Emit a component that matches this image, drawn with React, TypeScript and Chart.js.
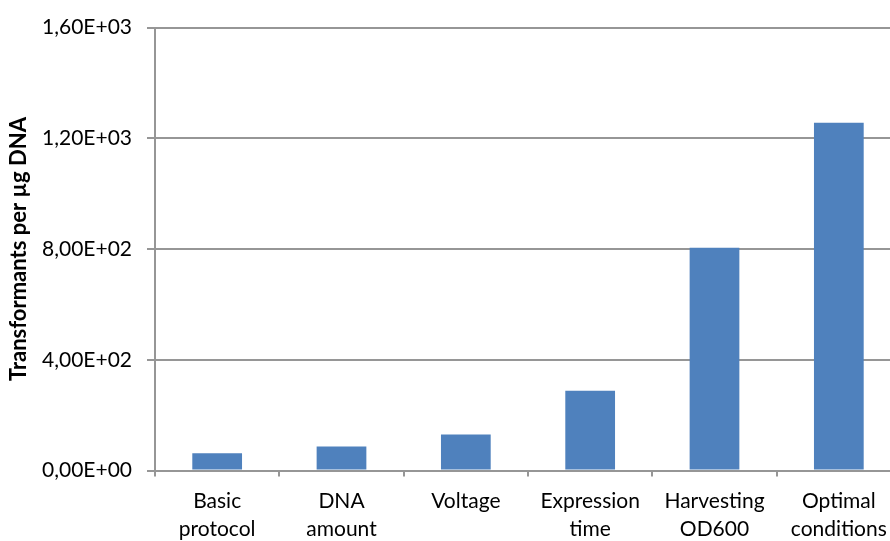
import React, { useEffect, useRef } from "react";
import { Chart, registerables } from "chart.js";

Chart.register(...registerables);

// Electroporation optimisation steps and resulting efficiency
const categories: string[][] = [
  ["Basic", "protocol"],
  ["DNA", "amount"],
  ["Voltage"],
  ["Expression", "time"],
  ["Harvesting", "OD600"],
  ["Optimal", "conditions"],
];
const transformants: number[] = [62, 87, 130, 288, 805, 1256];

const yMin = 0;
const yMax = 1600;
const yStep = 400;
const yTitle = "Transformants per µg DNA";

// Excel-style scientific notation with a decimal comma, e.g. 1,20E+03
function sci(v: number): string {
  if (v === 0) return "0,00E+00";
  const exp = Math.floor(Math.log10(Math.abs(v)));
  const mant = v / Math.pow(10, exp);
  const sign = exp < 0 ? "-" : "+";
  const e = String(Math.abs(exp)).padStart(2, "0");
  return mant.toFixed(2).replace(".", ",") + "E" + sign + e;
}

const FONT = "Lato, 'Open Sans', sans-serif";
const GRID = "#969696";

export default function App() {
  const ref = useRef<HTMLCanvasElement | null>(null);

  useEffect(() => {
    if (!ref.current) return;
    const chart = new Chart(ref.current, {
      type: "bar",
      data: {
        labels: categories,
        datasets: [
          {
            data: transformants,
            backgroundColor: "#4F81BD",
            borderWidth: 0,
            barPercentage: 0.4,
            categoryPercentage: 1,
          },
        ],
      },
      options: {
        responsive: false,
        animation: false,
        devicePixelRatio: 1,
        layout: { padding: { top: 25, right: 4, bottom: 0, left: 0 } },
        plugins: {
          legend: { display: false },
          tooltip: { enabled: false },
        },
        scales: {
          x: {
            grid: {
              display: true,
              drawOnChartArea: false,
              drawTicks: true,
              tickLength: 6,
              color: GRID,
              lineWidth: 2,
            },
            border: { display: true, color: GRID, width: 2 },
            ticks: {
              color: "#000",
              font: { family: FONT, size: 21, lineHeight: 1.36 },
              padding: 10,
              maxRotation: 0,
              autoSkip: false,
            },
            afterFit: (scale: any) => {
              scale.height = 70.5;
            },
          },
          y: {
            min: yMin,
            max: yMax,
            ticks: {
              stepSize: yStep,
              color: "#000",
              font: { family: FONT, size: 21 },
              padding: 15,
              callback: (v: any) => sci(Number(v)),
            },
            grid: {
              color: GRID,
              lineWidth: 2,
              tickLength: 8,
            },
            border: { display: true, color: GRID, width: 2 },
            title: {
              display: true,
              text: yTitle,
              color: "#000",
              font: { family: FONT, size: 22, weight: "bold" },
              padding: { top: 6, bottom: 0 },
            },
            afterFit: (scale: any) => {
              scale.width = 155;
            },
          },
        },
      },
    });
    return () => chart.destroy();
  }, []);

  return (
    <div
      style={{
        position: "fixed",
        left: 0,
        top: 0,
        width: 890,
        height: 541,
        overflow: "hidden",
        background: "#fff",
      }}
    >
      <canvas
        ref={ref}
        width={905}
        height={541}
        style={{ width: 905, height: 541, display: "block" }}
      />
    </div>
  );
}
